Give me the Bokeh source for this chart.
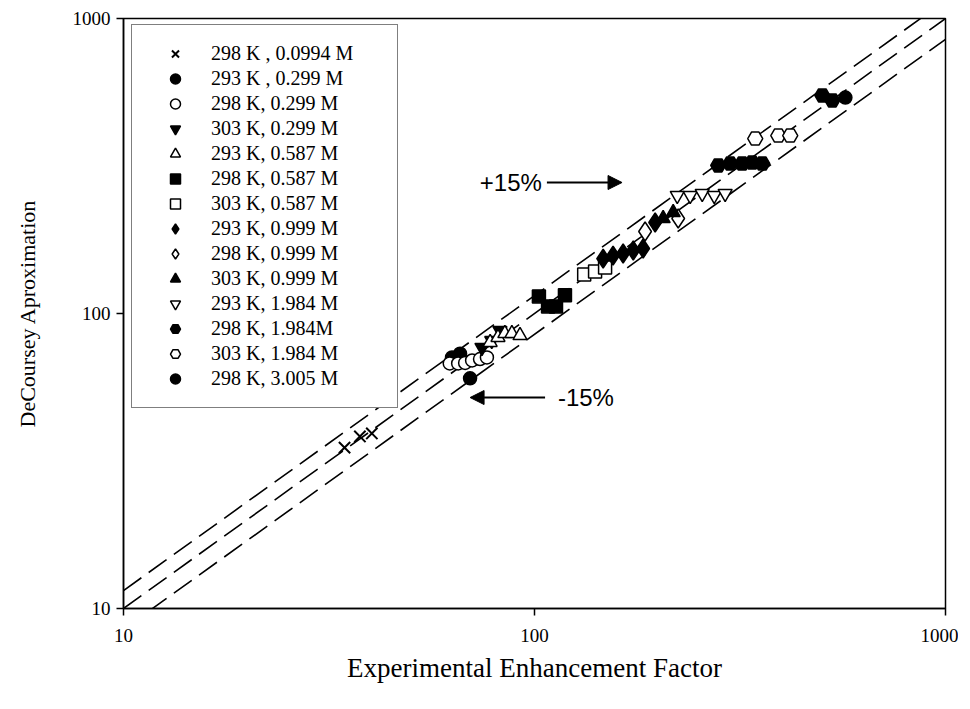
from bokeh.plotting import figure
from bokeh.models import (Legend, LegendItem, FixedTicker, NumeralTickFormatter,
                          Arrow, NormalHead, Label)
from bokeh.embed import file_html
from bokeh.resources import INLINE

# ---------------- data ----------------
labels = ["298 K , 0.0994 M", "293 K , 0.299 M", "298 K, 0.299 M", "303 K, 0.299 M",
          "293 K, 0.587 M", "298 K, 0.587 M", "303 K, 0.587 M", "293 K, 0.999 M",
          "298 K, 0.999 M", "303 K, 0.999 M", "293 K, 1.984 M", "298 K, 1.984M",
          "303 K, 1.984 M", "298 K, 3.005 M"]

x_0994_298 = [34.5, 37.6, 40.2]
y_0994_298 = [35.1, 38.3, 39.2]
x_0299_293 = [63.0, 65.9, 69.7]
y_0299_293 = [71.0, 73.1, 60.3]
x_0299_298 = [62.2, 65.2, 67.8, 70.5, 73.7, 76.6]
y_0299_298 = [67.7, 67.7, 68.0, 69.3, 70.1, 71.0]
x_0299_303 = [74.5, 78.7, 82.4]
y_0299_303 = [76.7, 80.9, 87.5]
x_0587_293 = [78.0, 81.5, 84.7, 88.1, 92.2]
y_0587_293 = [79.8, 83.0, 85.5, 85.5, 84.2]
x_0587_298 = [102.5, 107.9, 112.8, 118.6]
y_0587_298 = [114.3, 105.7, 105.7, 115.2]
x_0587_303 = [132.1, 140.4, 148.5]
y_0587_303 = [135.5, 138.7, 143.1]
x_0999_293 = [146.9, 155.3, 164.3, 173.9, 183.8, 196.6]
y_0999_293 = [153.4, 157.2, 159.7, 163.5, 166.1, 203.4]
x_0999_298 = [185.8, 223.7]
y_0999_298 = [189.7, 209.9]
x_0999_303 = [205.6, 217.5]
y_0999_303 = [209.9, 220.0]
x_1984_293 = [222.5, 239.2, 255.9, 273.7, 291.0]
y_1984_293 = [251.2, 251.2, 255.2, 251.2, 255.2]
x_1984_298 = [279.9, 299.4, 320.0, 338.5, 358.3, 501.5, 530.4]
y_1984_298 = [317.6, 322.2, 322.2, 324.9, 322.2, 548.4, 527.3]
x_1984_303 = [344.4, 391.9, 419.0]
y_1984_303 = [391.7, 401.0, 401.0]
x_3005_298 = [570.7]
y_3005_298 = [539.6]

xs_all = [x_0994_298, x_0299_293, x_0299_298, x_0299_303, x_0587_293, x_0587_298,
          x_0587_303, x_0999_293, x_0999_298, x_0999_303, x_1984_293, x_1984_298,
          x_1984_303, x_3005_298]
ys_all = [y_0994_298, y_0299_293, y_0299_298, y_0299_303, y_0587_293, y_0587_298,
          y_0587_303, y_0999_293, y_0999_298, y_0999_303, y_1984_293, y_1984_298,
          y_1984_303, y_3005_298]

markers = ["x", "circle", "circle", "inverted_triangle", "triangle", "square", "square",
           "diamond", "diamond", "triangle", "inverted_triangle", "hex", "hex", "circle"]
filled = [True, True, False, True, False, True, False, True, False, True, False, True,
          False, True]

line_x = [10, 1000]
band_factors = [1.15, 1.0, 0.85]

x_ticks = [10, 100, 1000]
y_ticks = [10, 100, 1000]

# annotations (data coordinates)
plus_arrow_x = [107.2, 163.3]
plus_arrow_y = 278.0
plus_text_x = 73.6
minus_arrow_x = [106.1, 69.7]
minus_arrow_y = 51.9
minus_text_x = 114.0

SERIF = "Liberation Serif"
SANS = "Liberation Sans"

p = figure(width=958, height=698, x_axis_type="log", y_axis_type="log",
           x_range=(10, 1000), y_range=(10, 1000), output_backend="svg",
           toolbar_location=None, min_border_left=123, min_border_top=18,
           min_border_right=13, min_border_bottom=90)
p.background_fill_color = "white"
p.border_fill_color = "white"
p.outline_line_color = "black"
p.outline_line_width = 1.5
p.xgrid.visible = False
p.ygrid.visible = False

for ax, ticks in ((p.xaxis, x_ticks), (p.yaxis, y_ticks)):
    ax.ticker = FixedTicker(ticks=ticks, minor_ticks=[])
    ax.formatter = NumeralTickFormatter(format="0")
    ax.axis_line_color = "black"
    ax.axis_line_width = 1.5
    ax.major_tick_line_color = "black"
    ax.major_tick_line_width = 1.5
    ax.major_tick_out = 7
    ax.major_tick_in = 0
    ax.minor_tick_line_color = None
    ax.major_label_text_font = SERIF
    ax.major_label_text_font_size = "19px"
    ax.major_label_text_color = "black"
    ax.axis_label_text_font = SERIF
    ax.axis_label_text_font_style = "normal"
    ax.axis_label_text_color = "black"

p.xaxis.axis_label = "Experimental Enhancement Factor"
p.yaxis.axis_label = "DeCoursey Aproximation"
p.xaxis.axis_label_text_font_size = "27px"
p.yaxis.axis_label_text_font_size = "22px"
p.xaxis.major_label_standoff = 13
p.xaxis.axis_label_standoff = 8
p.yaxis.major_label_standoff = 6
p.yaxis.axis_label_standoff = 30

# dashed reference lines
for f in band_factors:
    p.line(line_x, [v * f for v in line_x], line_color="black", line_width=1.6,
           line_dash="22 9")

sizes = {"x": 16, "circle": 13, "inverted_triangle": 14, "triangle": 14,
         "square": 13, "diamond": 19, "hex": 15}
items = []
for lab, xs, ys, mk, fl in zip(labels, xs_all, ys_all, markers, filled):
    r = p.scatter(xs, ys, marker=mk, size=sizes[mk],
                  fill_color="black" if fl else "white",
                  line_color="black", line_width=2.0 if mk == "x" else 1.5)
    items.append(LegendItem(label=lab, renderers=[r]))

legend = Legend(items=items, location=(8, 200), orientation="vertical",
                label_text_font=SERIF, label_text_font_size="20px",
                label_text_color="black", label_height=23, glyph_height=25,
                glyph_width=54, label_standoff=9, label_width=170, spacing=0,
                padding=16, margin=0, border_line_color="black", border_line_width=1,
                background_fill_color="white", background_fill_alpha=1)
p.add_layout(legend)

# arrows and texts
p.add_layout(Arrow(end=NormalHead(size=14, fill_color="black", line_color="black"),
                   x_start=plus_arrow_x[0], y_start=plus_arrow_y,
                   x_end=plus_arrow_x[1], y_end=plus_arrow_y,
                   line_color="black", line_width=2))
p.add_layout(Arrow(end=NormalHead(size=14, fill_color="black", line_color="black"),
                   x_start=minus_arrow_x[0], y_start=minus_arrow_y,
                   x_end=minus_arrow_x[1], y_end=minus_arrow_y,
                   line_color="black", line_width=2))
p.add_layout(Label(x=plus_text_x, y=plus_arrow_y, text="+15%", text_font=SANS,
                   text_font_size="24px", text_baseline="middle", text_align="left",
                   text_color="black"))
p.add_layout(Label(x=minus_text_x, y=minus_arrow_y, text="-15%", text_font=SANS,
                   text_font_size="24px", text_baseline="middle", text_align="left",
                   text_color="black"))

open("out.html", "w").write(file_html(p, INLINE))
